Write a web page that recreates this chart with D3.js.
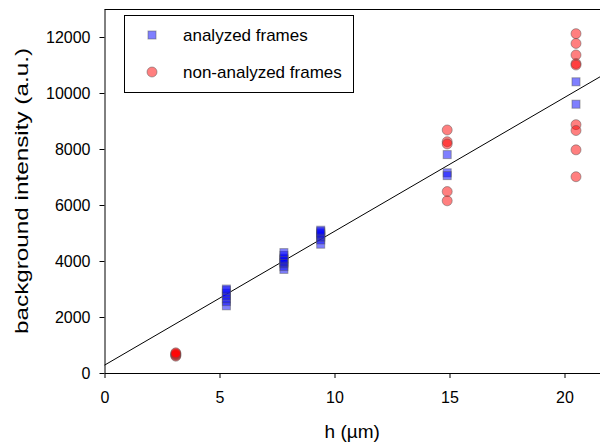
<!DOCTYPE html>
<html><head><meta charset="utf-8">
<script src="https://cdn.jsdelivr.net/npm/d3@7"></script>
<style>body{margin:0;background:#fff}svg{display:block;font-family:"Liberation Sans",Arial,sans-serif}</style>
</head><body><svg id="c" width="600" height="443"></svg>
<script>
// Analyzed frames (blue squares): x = h (µm), y = background intensity
const analyzedH = [5.3,5.3,5.3,5.3,5.3,5.3,5.3, 7.8,7.8,7.8,7.8,7.8,7.8,7.8,7.8,7.8, 9.4,9.4,9.4,9.4,9.4,9.4,9.4,9.4, 14.9,14.9,14.9, 20.5,20.5];
const analyzedI = [2400,2550,2650,2750,2850,2950,3000, 3700,3800,3900,3950,4000,4050,4100,4200,4300, 4600,4750,4850,4900,4950,5000,5050,5100, 7800,7150,7050, 10400,9600];
// Non-analyzed frames (red circles)
const nonH = [3.1,3.1,3.1,3.1,3.1, 14.9,14.9,14.9,14.9,14.9, 20.5,20.5,20.5,20.5,20.5,20.5,20.5,20.5,20.5];
const nonI = [600,630,660,690,720, 8680,8260,8180,6480,6150, 12120,11770,11360,11050,11000,8870,8660,7970,7010];
// Linear fit
const fitIntercept = 280, fitSlope = 478;
const xTicks = [0,5,10,15,20];
const yTicks = [0,2000,4000,6000,8000,10000,12000];
const legendLabels = ["analyzed frames","non-analyzed frames"];

const svg = d3.select("#c");
const L=104.5, R=600, T=9, B=373;
const x = d3.scaleLinear().domain([0,(R-L)/23]).range([L,R]);
const y = d3.scaleLinear().domain([0,13000]).range([B,T]);

// frame top line
svg.append("line").attr("x1",L).attr("x2",R).attr("y1",T+0.5).attr("y2",T+0.5).attr("stroke","#000").attr("stroke-width",1);

const xa = svg.append("g").attr("transform",`translate(0,${B})`)
  .call(d3.axisBottom(x).tickValues(xTicks).tickSize(5).tickSizeOuter(0).tickPadding(14));
const ya = svg.append("g").attr("transform",`translate(${L},0)`)
  .call(d3.axisLeft(y).tickValues(yTicks).tickSize(5).tickSizeOuter(0).tickPadding(9).tickFormat(d3.format("d")));
[xa,ya].forEach(g=>{g.selectAll("text").attr("font-size",16).attr("font-family","Liberation Sans, Arial, sans-serif").attr("fill","#000");
  g.select(".domain").attr("stroke","#000"); g.selectAll(".tick line").attr("stroke","#000");});

// fit line
const xd = x.domain();
svg.append("line").attr("x1",x(0)).attr("y1",y(fitIntercept)).attr("x2",x(xd[1])).attr("y2",y(fitIntercept+fitSlope*xd[1]))
  .attr("stroke","#000").attr("stroke-width",1);

// points
const s=8;
svg.append("g").selectAll("rect").data(d3.range(analyzedH.length)).join("rect")
  .attr("x",i=>x(analyzedH[i])-s/2).attr("y",i=>y(analyzedI[i])-s/2).attr("width",s).attr("height",s)
  .attr("fill","rgba(0,0,255,0.5)").attr("stroke","rgba(90,90,90,0.5)").attr("stroke-width",1);
svg.append("g").selectAll("circle").data(d3.range(nonH.length)).join("circle")
  .attr("cx",i=>x(nonH[i])).attr("cy",i=>y(nonI[i])).attr("r",5)
  .attr("fill","rgba(255,0,0,0.5)").attr("stroke","rgba(90,90,90,0.5)").attr("stroke-width",1);

// legend
svg.append("rect").attr("x",124.5).attr("y",15.5).attr("width",229).attr("height",77).attr("fill","#fff").attr("stroke","#000");
svg.append("rect").attr("x",152-s/2).attr("y",35-s/2).attr("width",s).attr("height",s)
  .attr("fill","rgba(0,0,255,0.5)").attr("stroke","rgba(90,90,90,0.5)");
svg.append("circle").attr("cx",152).attr("cy",72).attr("r",5)
  .attr("fill","rgba(255,0,0,0.5)").attr("stroke","rgba(90,90,90,0.5)");
svg.append("text").attr("x",183).attr("y",41).attr("font-size",17).text(legendLabels[0]);
svg.append("text").attr("x",183).attr("y",78).attr("font-size",17).text(legendLabels[1]);

// axis titles
svg.append("text").attr("x",(L+R)/2).attr("y",438).attr("text-anchor","middle").attr("font-size",19).text("h (µm)");
svg.append("text").attr("transform",`translate(28,${(T+B)/2}) rotate(-90)`).attr("text-anchor","middle").attr("font-size",18)
  .attr("textLength",286).attr("lengthAdjust","spacingAndGlyphs").text("background intensity (a.u.)");
</script></body></html>
